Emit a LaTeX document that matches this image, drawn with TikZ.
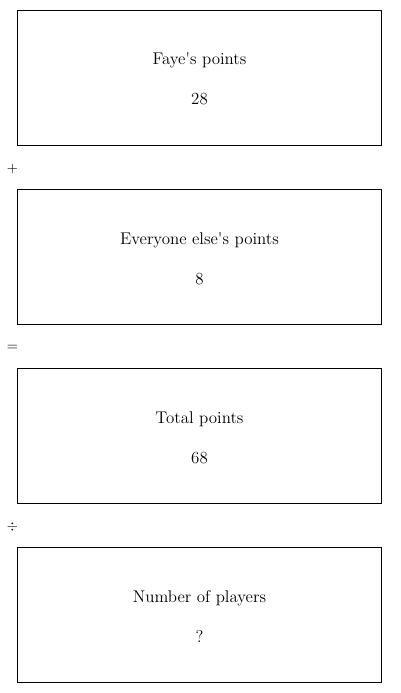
\documentclass[tikz,border=0pt]{standalone}
\usepackage{tikz}
\usetikzlibrary{positioning}

\begin{document}
\begin{tikzpicture}[
  x=0.65pt, y=-0.65pt,
  font=\fontsize{11}{13}\selectfont,
  panel/.style={draw=black, line width=0.6pt, minimum width=236pt,
                minimum height=87.75pt, inner sep=0pt},
  caption/.style={font=\fontsize{11}{13}\selectfont, anchor=base},
  operator/.style={font=\small, inner sep=0pt},
]
\useasboundingbox (0,0) rectangle (400,693);

% -------------------------------------------------------------------------
% Faye's points
% -------------------------------------------------------------------------
\node[panel] (faye) at (199.5,77.5) {};
\node[caption] (fayelabel) at (199.5,65) {Faye\textquotesingle s points};
\node[caption] (fayevalue) at (199.5,105) {28};

\node[operator] (plus) at (12.5,169) {$+$};

% -------------------------------------------------------------------------
% Everyone else's points
% -------------------------------------------------------------------------
\node[panel] (others) at (199.5,256.5) {};
\node[caption] (otherslabel) at (199.5,244) {Everyone else\textquotesingle s points};
\node[caption] (othersvalue) at (199.5,284) {8};

\node[operator] (equals) at (12.5,348) {$=$};

% -------------------------------------------------------------------------
% Total points
% -------------------------------------------------------------------------
\node[panel] (total) at (199.5,435.5) {};
\node[caption] (totallabel) at (199.5,423) {Total points};
\node[caption] (totalvalue) at (199.5,463) {68};

\node[operator] (divide) at (12.5,527) {$\div$};

% -------------------------------------------------------------------------
% Number of players
% -------------------------------------------------------------------------
\node[panel] (players) at (199.5,614.5) {};
\node[caption] (playerslabel) at (199.5,602) {Number of players};
\node[caption] (playersvalue) at (199.5,642) {?};

\end{tikzpicture}
\end{document}
